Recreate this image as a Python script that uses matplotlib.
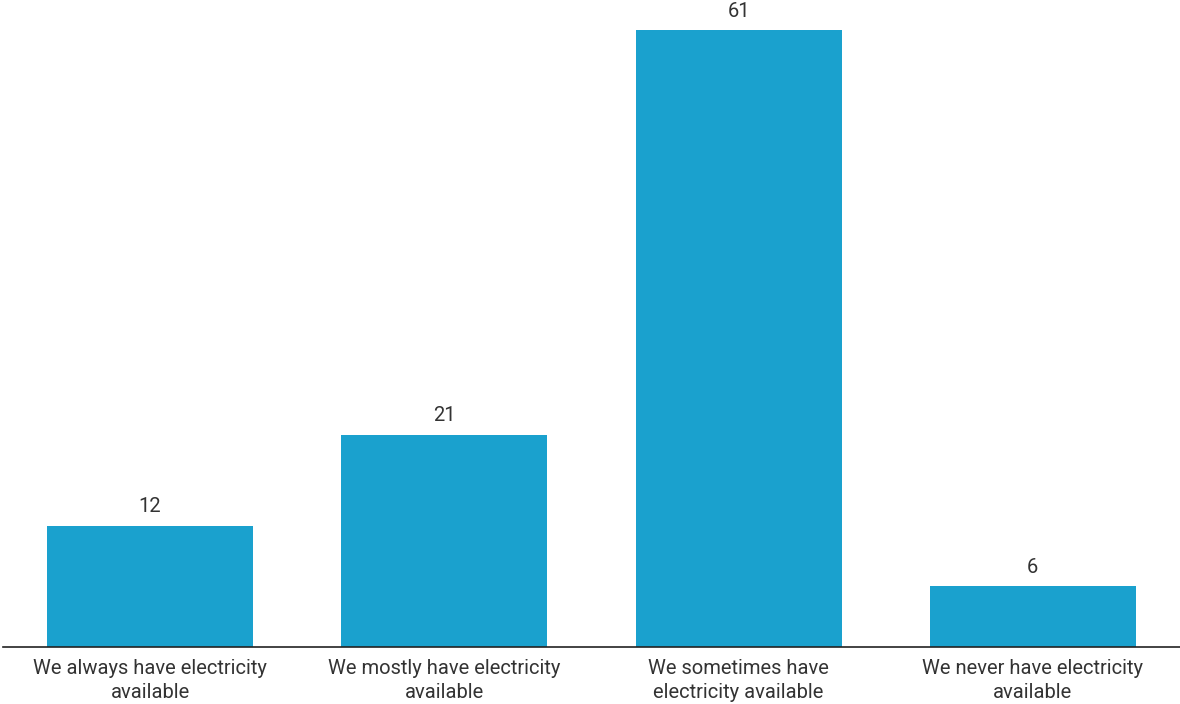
import matplotlib.pyplot as plt

plt.rcParams['font.family'] = ['Roboto', 'DejaVu Sans']

# Dados do gráfico
categorias = ['We always have electricity\navailable',
              'We mostly have electricity\navailable',
              'We sometimes have\nelectricity available',
              'We never have electricity\navailable']
valores = [12, 21, 61, 6]

cor_barra = '#1aa1ce'
cor_texto = '#333333'

fig = plt.figure(figsize=(11.8, 7.04), dpi=100)
ax = fig.add_axes([3 / 1180, 57 / 704, 1177 / 1180, 647 / 704])

x = range(len(valores))
barras = ax.bar(x, valores, width=0.7, color=cor_barra)

# Rótulos de valor acima das barras
for xi, v in zip(x, valores):
    ax.annotate(str(v), (xi, v), xytext=(0, 7), textcoords='offset points',
                ha='center', va='bottom', fontsize=14.5, color=cor_texto)

ax.set_xlim(-0.5, 3.5)
ax.set_ylim(0, 64)
ax.set_xticks(list(x))
ax.set_xticklabels(categorias, fontsize=14.5, color=cor_texto, linespacing=1.35)
ax.tick_params(axis='x', length=0, pad=8.5)
ax.set_yticks([])

for lado in ['top', 'right', 'left']:
    ax.spines[lado].set_visible(False)
ax.spines['bottom'].set_color('#222222')
ax.spines['bottom'].set_linewidth(1.2)

fig.savefig('out.png', dpi=100)
